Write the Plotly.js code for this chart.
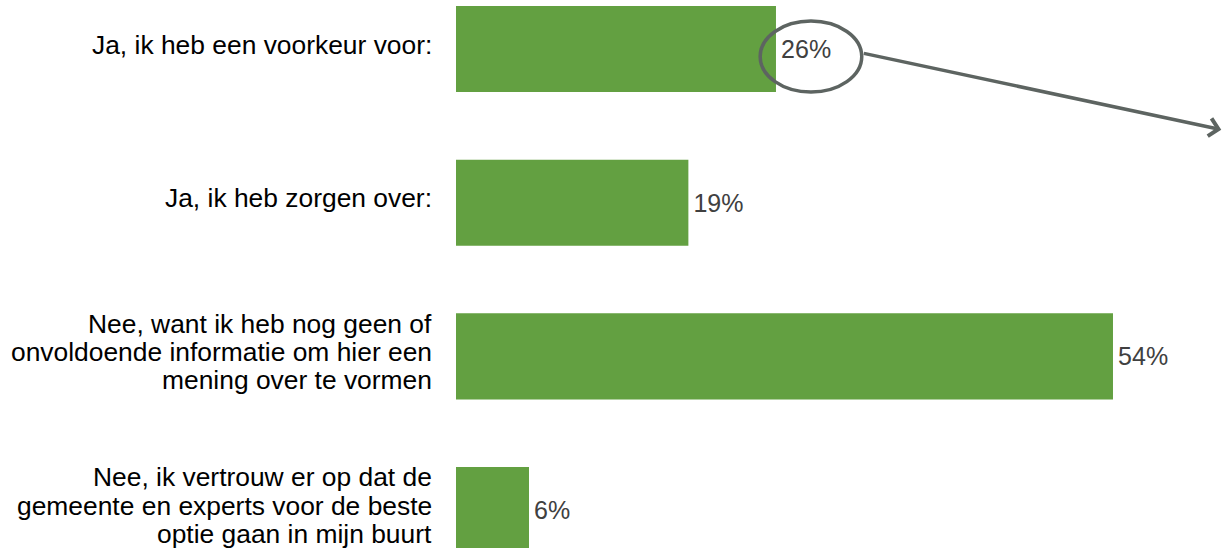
<!DOCTYPE html>
<html>
<head>
<meta charset="utf-8">
<script src="https://cdn.plot.ly/plotly-3.0.1.min.js"></script>
<style>
  html, body { margin: 0; padding: 0; background: #ffffff; }
  #chart { width: 1222px; height: 548px; }
</style>
</head>
<body>
<div id="chart"></div>
<script>
// Data
var categories = [
  "Ja, ik heb een voorkeur voor:",
  "Ja, ik heb zorgen over:",
  "Nee, want ik heb nog geen of<br>onvoldoende informatie om hier een<br>mening over te vormen",
  "Nee, ik vertrouw er op dat de<br>gemeente en experts voor de beste<br>optie gaan in mijn buurt"
];
var percentages = [26.3, 19.1, 54.0, 6.0];
var valueLabels = ["26%", "19%", "54%", "6%"];

var barColor = "#63a041";
var annColor = "#5d6461";

var trace = {
  type: "bar",
  orientation: "h",
  y: categories,
  x: percentages,
  text: valueLabels,
  texttemplate: "\u200A%{text}",
  textposition: "outside",
  cliponaxis: false,
  constraintext: "none",
  textfont: { family: "Liberation Sans, Arial, sans-serif", size: 25, color: "#404040" },
  marker: { color: barColor },
  hoverinfo: "none"
};

// Category labels drawn line by line (tight line spacing as in the reference)
var annotations = [];
var lineStep = 28.3;
categories.forEach(function (cat) {
  var lines = cat.split("<br>");
  var n = lines.length;
  lines.forEach(function (ln, i) {
    annotations.push({
      xref: "paper", yref: "y",
      x: 0, y: cat,
      xanchor: "right", yanchor: "middle",
      xshift: -22,
      yshift: 4.5 - (i - (n - 1) / 2) * lineStep,
      text: ln,
      showarrow: false,
      font: { family: "Liberation Sans, Arial, sans-serif", size: 26.4, color: "#000000" }
    });
  });
});

// Arrow from the ellipse to the right edge
annotations.push({
  xref: "x", yref: "y", axref: "x", ayref: "y",
  x: 62.9, y: 0.525,
  ax: 33.4, ay: 0.026,
  text: "",
  showarrow: true,
  arrowhead: 4,
  arrowsize: 1,
  arrowwidth: 3.5,
  arrowcolor: annColor,
  standoff: 0,
  startstandoff: 0
});

var layout = {
  width: 1222,
  height: 548,
  margin: { l: 456, r: 0, t: 0, b: 0, pad: 0 },
  paper_bgcolor: "#ffffff",
  plot_bgcolor: "#ffffff",
  showlegend: false,
  bargap: 0.44,
  xaxis: {
    range: [0, 62.96],
    showgrid: false, zeroline: false, showticklabels: false, showline: false, ticks: ""
  },
  yaxis: {
    type: "category",
    categoryorder: "array",
    categoryarray: categories,
    range: [3.247, -0.319],
    showgrid: false, zeroline: false, showticklabels: false, showline: false, ticks: ""
  },
  shapes: [{
    type: "circle",
    xref: "x", yref: "y",
    x0: 25.0, x1: 33.35,
    y0: -0.182, y1: 0.280,
    line: { color: annColor, width: 3.5 },
    fillcolor: "rgba(0,0,0,0)"
  }],
  annotations: annotations
};

Plotly.newPlot("chart", [trace], layout, { displayModeBar: false, staticPlot: true });
</script>
</body>
</html>
